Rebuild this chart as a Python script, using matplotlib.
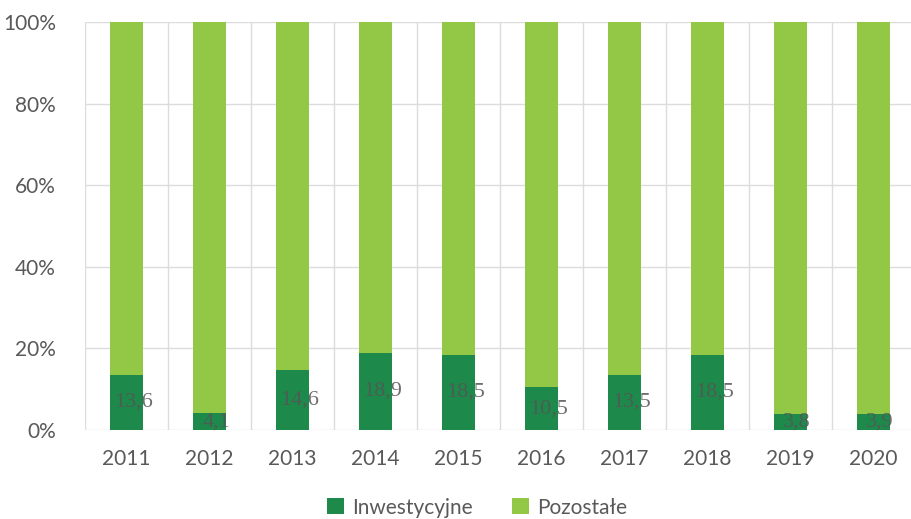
import matplotlib
matplotlib.use("Agg")
import matplotlib.pyplot as plt
import numpy as np

years = ["2011", "2012", "2013", "2014", "2015", "2016", "2017", "2018", "2019", "2020"]
inwestycyjne = [13.6, 4.1, 14.6, 18.9, 18.5, 10.5, 13.5, 18.5, 3.8, 3.9]
pozostale = [100 - v for v in inwestycyjne]
labels = ["13,6", "4,1", "14,6", "18,9", "18,5", "10,5", "13,5", "18,5", "3,8", "3,9"]
yticks = [0, 20, 40, 60, 80, 100]
ytick_labels = ["0%", "20%", "40%", "60%", "80%", "100%"]

dark = "#1d8a4c"
light = "#93c847"
txt = "#595959"

fig = plt.figure(figsize=(9.11, 5.19), dpi=100)
ax = fig.add_axes([85 / 911, 89 / 519, 830 / 911, 408 / 519])

x = np.arange(len(years))
w = 0.4
b1 = ax.bar(x, inwestycyjne, w, color=dark, label="Inwestycyjne", zorder=3)
b2 = ax.bar(x, pozostale, w, bottom=inwestycyjne, color=light, label="Pozostałe", zorder=3)

for xi, v, lab in zip(x, inwestycyjne, labels):
    ax.text(xi + 0.08, max(v / 2, 1.5), lab, ha="center", va="center", fontsize=16,
            family="Liberation Serif", color="#555555", alpha=0.85, zorder=4)

ax.set_xlim(-0.5, len(years) - 0.5)
ax.set_ylim(0, 100)
ax.set_yticks(yticks)
ax.set_yticklabels(ytick_labels, family="Lato", fontsize=15, color=txt)
ax.set_xticks(x)
ax.set_xticklabels(years, family="Lato", fontsize=15, color=txt)
ax.set_xticks(np.arange(len(years) + 1) - 0.5, minor=True)
ax.tick_params(axis="both", which="both", length=0)
ax.tick_params(axis="y", pad=21)
ax.tick_params(axis="x", pad=14)
ax.grid(axis="y", which="major", color="#dcdcdc", linewidth=1, zorder=0)
ax.grid(axis="x", which="minor", color="#dcdcdc", linewidth=1, zorder=0)
ax.grid(axis="x", which="major", visible=False)
for s in ax.spines.values():
    s.set_visible(False)

fig.legend(handles=[b1, b2], loc="center", bbox_to_anchor=(0.524, 0.022), ncol=2,
           frameon=False, prop={"family": "Lato", "size": 15}, labelcolor=txt,
           handlelength=0.8, handleheight=0.8, handletextpad=0.4, columnspacing=1.9)

fig.savefig("out.png", dpi=100, facecolor="white")
